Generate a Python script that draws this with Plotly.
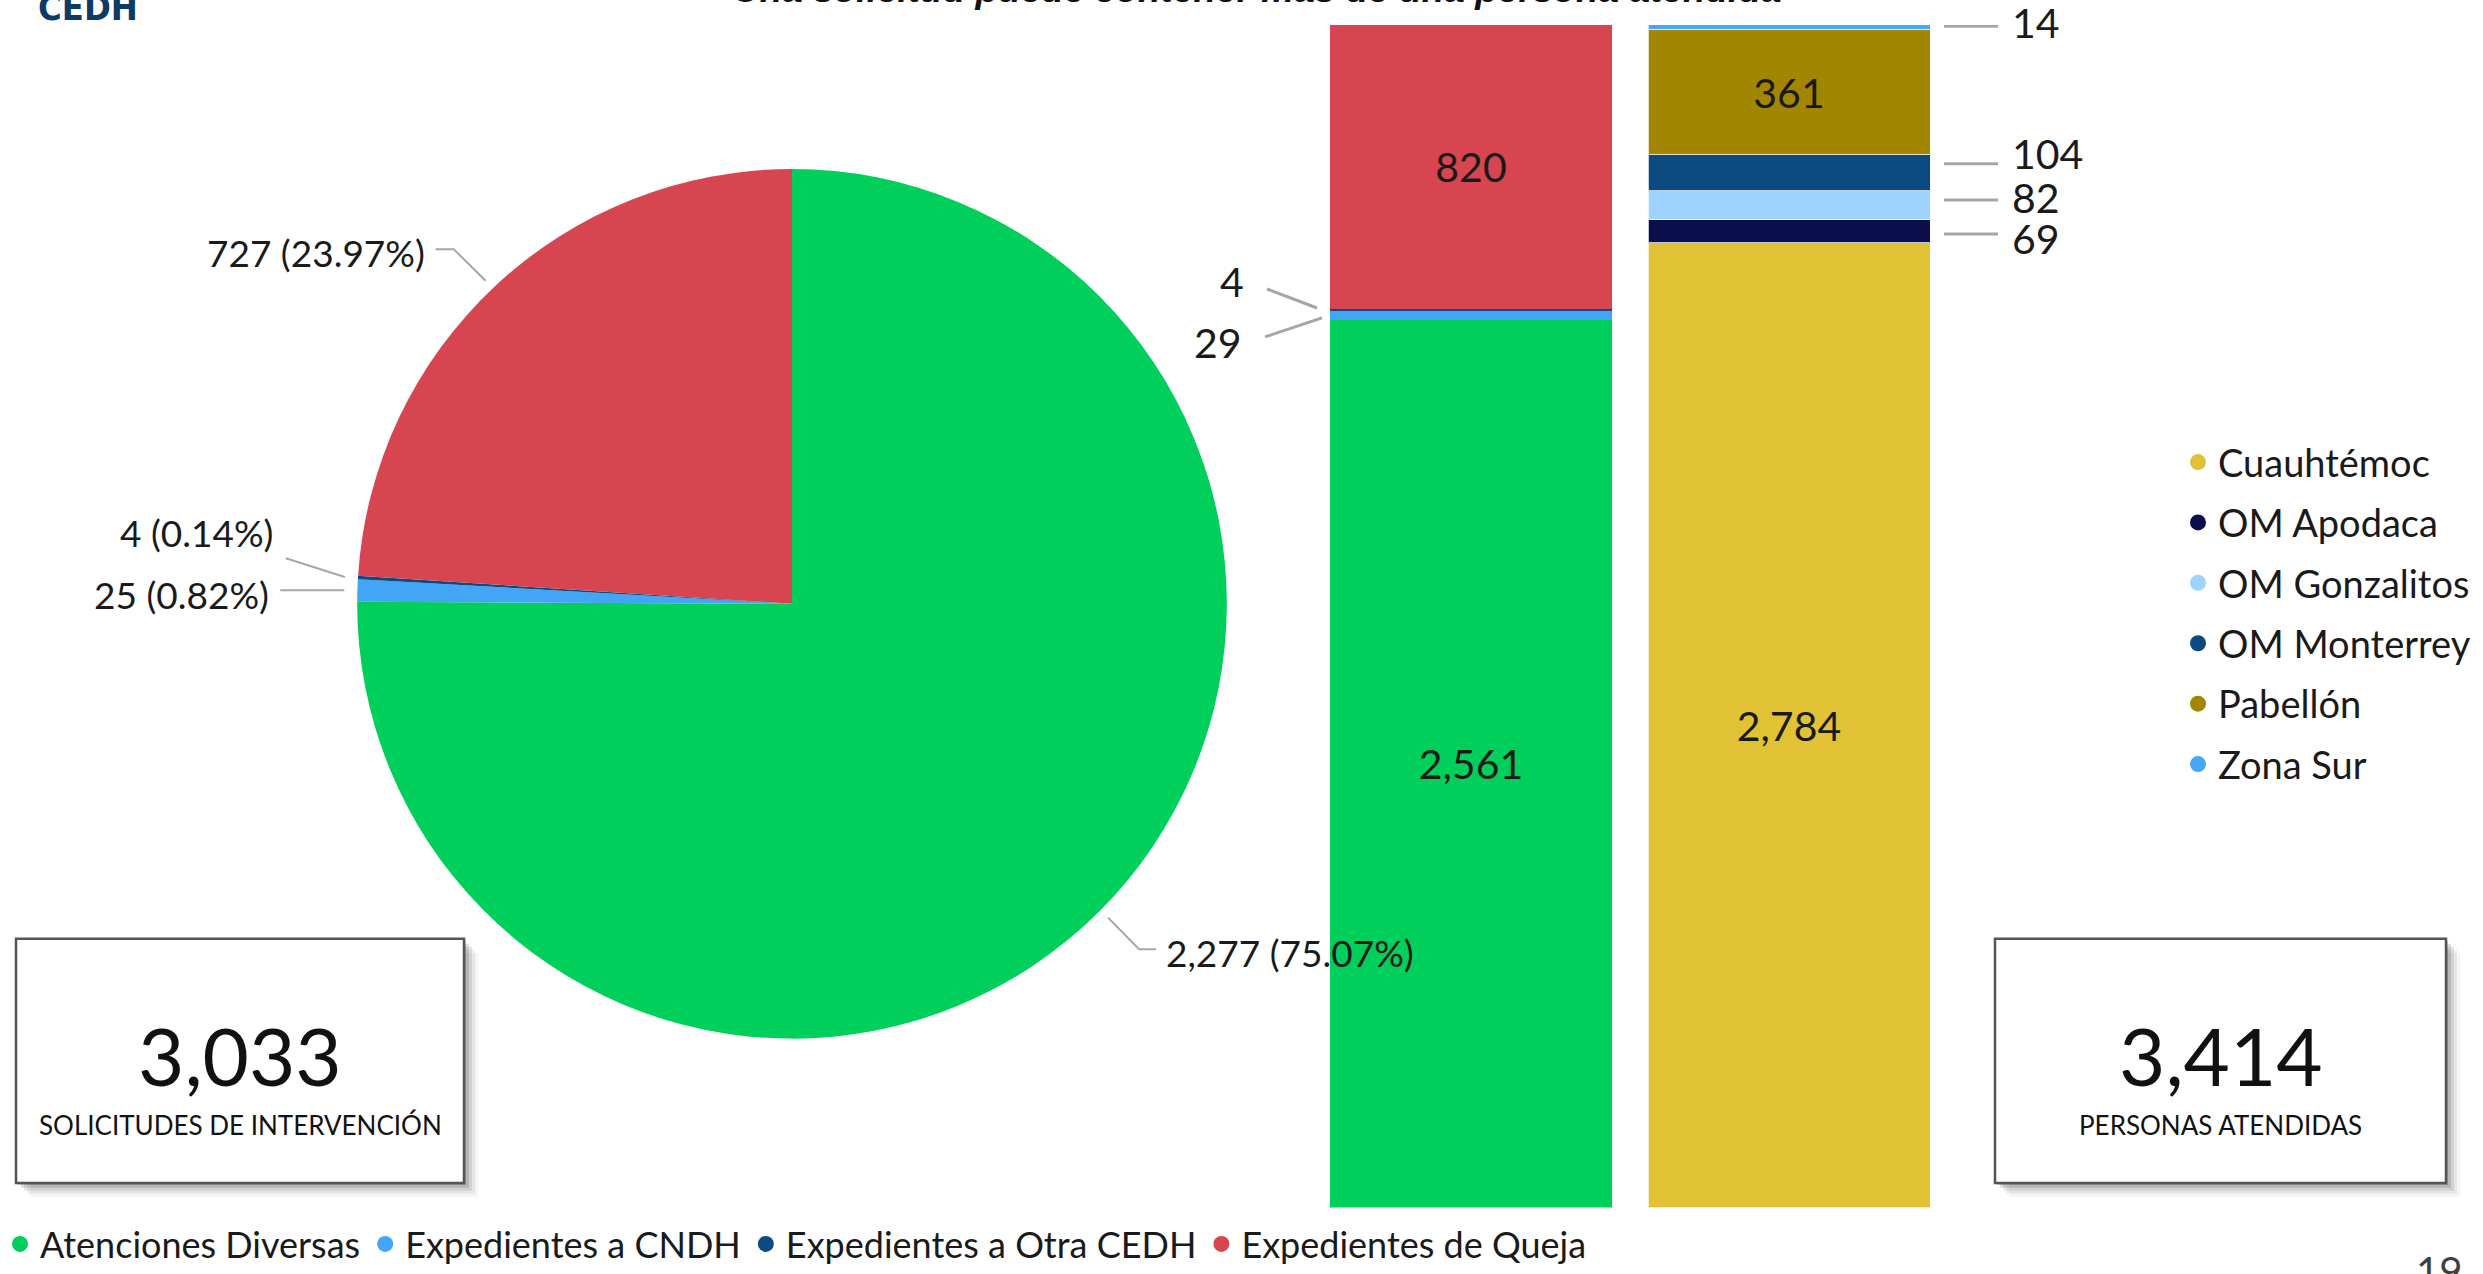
import math
import plotly.graph_objects as go

W, H = 2483, 1274

# ---------------- data ----------------
pie_labels = ["Atenciones Diversas", "Expedientes a CNDH", "Expedientes a Otra CEDH", "Expedientes de Queja"]
pie_values = [2277, 25, 4, 727]
pie_pct_labels = ["75.07%", "0.82%", "0.14%", "23.97%"]
sol_colors = ["#00CF5C", "#42A5F5", "#0C4A84", "#D64550"]

bar_categories = ["Solicitudes", "Personas"]
sol_values = [2561, 29, 4, 820]

per_labels = ["Cuauhtémoc", "OM Apodaca", "OM Gonzalitos", "OM Monterrey", "Pabellón", "Zona Sur"]
per_values = [2784, 69, 82, 104, 361, 14]
per_colors = ["#E0C234", "#0A0F4C", "#9DD3FD", "#0B4A80", "#A38600", "#45A6FA"]

box_captions = ["SOLICITUDES DE INTERVENCIÓN", "PERSONAS ATENDIDAS"]
title_text = "Una solicitud puede contener más de una persona atendida"
logo_text = "CEDH"
page_number = "19"

# ---------------- layout constants (pixels) ----------------
FONT = "Lato, Open Sans, sans-serif"
TXT = "#1a1a1a"
LEADER = "#A6A6A6"


def px(x):
    return x / W


def py(y):
    return 1 - y / H


PIE_CX, PIE_CY, PIE_R = 792, 611, 440
BAR_W, BAR_STEP, BAR0_CX = 282, 318, 1471
XDOM = (1100, 2200)
YDOM = (25, 1222)  # top, bottom in screen px

bargap = 1 - BAR_W / BAR_STEP
hw = (1 - bargap) / 2
xr0 = -(BAR0_CX - XDOM[0]) / BAR_STEP
xr1 = xr0 + (XDOM[1] - XDOM[0]) / BAR_STEP

fig = go.Figure()

# ---------------- pie ----------------
fig.add_trace(go.Pie(
    labels=pie_labels, values=pie_values, sort=False, direction="clockwise", rotation=0,
    marker=dict(colors=sol_colors, line=dict(width=0)),
    textinfo="none", hoverinfo="skip", showlegend=False,
    domain=dict(x=[px(PIE_CX - PIE_R), px(PIE_CX + PIE_R)],
                y=[py(PIE_CY + PIE_R), py(PIE_CY - PIE_R)]),
))

# ---------------- stacked bars ----------------
inside_font = dict(family=FONT, size=41, color=TXT)
for lab, v, col in zip(pie_labels, sol_values, sol_colors):
    big = v >= 300
    fig.add_trace(go.Bar(
        x=[bar_categories[0]], y=[v], name=lab, marker=dict(color=col, line=dict(width=0)),
        text=[f"{v:,}"] if big else None, textposition="inside" if big else "none",
        insidetextanchor="middle", textfont=inside_font, constraintext="none",
        showlegend=False, hoverinfo="skip"))
for lab, v, col in zip(per_labels, per_values, per_colors):
    big = v >= 300
    fig.add_trace(go.Bar(
        x=[bar_categories[1]], y=[v], name=lab,
        marker=dict(color=col, line=dict(width=1, color="rgba(255,255,255,0.75)")),
        text=[f"{v:,}"] if big else None, textposition="inside" if big else "none",
        insidetextanchor="middle", textfont=inside_font, constraintext="none",
        showlegend=False, hoverinfo="skip"))

# legend-only circle markers
for lab, col in zip(pie_labels, sol_colors):
    fig.add_trace(go.Scatter(x=[None], y=[None], mode="markers", name=lab,
                             marker=dict(color=col, size=18, symbol="circle"),
                             legend="legend", hoverinfo="skip"))
for lab, col in zip(per_labels, per_colors):
    fig.add_trace(go.Scatter(x=[None], y=[None], mode="markers", name=lab, legendgroup=lab,
                             marker=dict(color=col, size=18, symbol="circle"),
                             legend="legend2", hoverinfo="skip"))

shapes = []
annotations = []

# ---------------- pie labels ----------------
pie_label_layout = {
    "Atenciones Diversas": dict(path=[(31, 32), (48, 32)], text=(56, 35), anchor="left"),
    "Expedientes a CNDH": dict(path=[(-64, 0)], text=(-73, 4), anchor="right"),
    "Expedientes a Otra CEDH": dict(path=[(-59, -19)], text=(-70, -45), anchor="right"),
    "Expedientes de Queja": dict(path=[(-32, -32), (-50, -32)], text=(-59, -29), anchor="right"),
}
total_pie = sum(pie_values)
cum = 0
for lab, v, pct in zip(pie_labels, pie_values, pie_pct_labels):
    mid = (cum + v / 2) / total_pie * 2 * math.pi
    cum += v
    ax_ = PIE_CX + (PIE_R + 8) * math.sin(mid)
    ay_ = PIE_CY - (PIE_R + 8) * math.cos(mid)
    lay = pie_label_layout[lab]
    pts = [(ax_, ay_)] + [(ax_ + dx, ay_ + dy) for dx, dy in lay["path"]]
    path = "M " + " L ".join(f"{px(x):.5f},{py(y):.5f}" for x, y in pts)
    shapes.append(dict(type="path", xref="paper", yref="paper", path=path,
                       line=dict(color=LEADER, width=2)))
    tx, ty = ax_ + lay["text"][0], ay_ + lay["text"][1]
    annotations.append(dict(xref="paper", yref="paper", x=px(tx), y=py(ty), showarrow=False,
                            text=f"{v:,} ({pct})", xanchor=lay["anchor"], yanchor="middle",
                            font=dict(family=FONT, size=37, color=TXT)))

# ---------------- small bar-segment labels ----------------
# right bar: (line dy, text dy) in px, up positive
right_nudge = {"OM Apodaca": (-3, -7), "OM Gonzalitos": (5, 7), "OM Monterrey": (9, 19), "Zona Sur": (1, 5)}
base = 0
for lab, v in zip(per_labels, per_values):
    c = base + v / 2
    base += v
    if lab in right_nudge:
        ld, td = right_nudge[lab]
        shapes.append(dict(type="line", xref="x", yref="y", xsizemode="pixel", ysizemode="pixel",
                           xanchor=1 + hw, yanchor=c, x0=14, x1=68, y0=ld, y1=ld,
                           line=dict(color=LEADER, width=3)))
        annotations.append(dict(xref="x", yref="y", x=1 + hw, y=c, xshift=80, yshift=td,
                                showarrow=False, text=f"{v:,}", xanchor="left", yanchor="middle",
                                font=dict(family=FONT, size=41, color=TXT)))

# left bar: (line x0, x1, y0, y1, text dx, text dy)
left_nudge = {"Expedientes a Otra CEDH": (-63, -13, 20.5, 1.5, -98, 28.5),
              "Expedientes a CNDH": (-65, -8, -21.7, -2.7, -112, -27.7)}
base = 0
for lab, v in zip(pie_labels, sol_values):
    c = base + v / 2
    base += v
    if lab in left_nudge:
        x0, x1, y0, y1, tdx, tdy = left_nudge[lab]
        shapes.append(dict(type="line", xref="x", yref="y", xsizemode="pixel", ysizemode="pixel",
                           xanchor=-hw, yanchor=c, x0=x0, x1=x1, y0=y0, y1=y1,
                           line=dict(color=LEADER, width=3)))
        annotations.append(dict(xref="x", yref="y", x=-hw, y=c, xshift=tdx, yshift=tdy,
                                showarrow=False, text=f"{v:,}", xanchor="center", yanchor="middle",
                                font=dict(family=FONT, size=41, color=TXT)))

# ---------------- KPI boxes ----------------
BOX_TOP, BOX_BOT = 950, 1197
boxes = [((16, BOX_TOP, 464, BOX_BOT), f"{sum(pie_values):,}", box_captions[0]),
         ((1995, BOX_TOP, 2446, BOX_BOT), f"{sum(per_values):,}", box_captions[1])]
for (x0, y0, x1, y1), big, cap in boxes:
    for off, op in [(14, 0.04), (11, 0.06), (8, 0.09), (5, 0.13), (2, 0.18)]:
        shapes.append(dict(type="rect", xref="paper", yref="paper", layer="below",
                           x0=px(x0 + off), x1=px(x1 + off), y0=py(y1 + off), y1=py(y0 + off),
                           fillcolor=f"rgba(0,0,0,{op})", line=dict(width=0)))
    shapes.append(dict(type="rect", xref="paper", yref="paper", layer="below",
                       x0=px(x0), x1=px(x1), y0=py(y1), y1=py(y0),
                       fillcolor="white", line=dict(color="#555555", width=2.5)))
    cx = (x0 + x1) / 2
    annotations.append(dict(xref="paper", yref="paper", x=px(cx), y=py(y0 + 118), showarrow=False,
                            text=big, xanchor="center", yanchor="middle",
                            font=dict(family=FONT, size=80, color="#111111")))
    annotations.append(dict(xref="paper", yref="paper", x=px(cx), y=py(y0 + 188), showarrow=False,
                            text=cap, xanchor="center", yanchor="middle",
                            font=dict(family=FONT, size=26, color="#111111")))

# ---------------- title / logo / page number (cut at the edges) ----------------
annotations.append(dict(xref="paper", yref="paper", x=px(1257), y=py(12), showarrow=False,
                        text=title_text, xanchor="center", yanchor="bottom",
                        font=dict(family="Liberation Sans, Arial, sans-serif", size=37,
                                  color="#111111", weight="bold", style="italic")))
annotations.append(dict(xref="paper", yref="paper", x=px(88), y=py(30), showarrow=False,
                        text=logo_text, xanchor="center", yanchor="bottom",
                        font=dict(family="Liberation Sans Narrow, DejaVu Sans Condensed, sans-serif",
                                  size=36, color="#0E3B66", weight="bold")))
annotations.append(dict(xref="paper", yref="paper", x=px(2414), y=py(1260), showarrow=False,
                        text=page_number, xanchor="left", yanchor="top",
                        font=dict(family=FONT, size=40, color="#404040")))

fig.update_layout(
    width=W, height=H, margin=dict(l=0, r=0, t=0, b=0),
    paper_bgcolor="white", plot_bgcolor="rgba(0,0,0,0)",
    barmode="stack", bargap=bargap,
    xaxis=dict(type="category", categoryorder="array", categoryarray=bar_categories,
               range=[xr0, xr1], domain=[px(XDOM[0]), px(XDOM[1])], visible=False, fixedrange=True),
    yaxis=dict(range=[0, sum(sol_values)], domain=[py(YDOM[1]), py(YDOM[0])], visible=False,
               fixedrange=True),
    legend=dict(orientation="h", x=px(0), y=py(1259), xanchor="left", yanchor="middle",
                font=dict(family=FONT, size=36, color=TXT), bgcolor="rgba(0,0,0,0)",
                itemsizing="trace", traceorder="normal", itemclick=False),
    legend2=dict(orientation="v", x=px(2178), y=py(436), xanchor="left", yanchor="top",
                 font=dict(family=FONT, size=38, color=TXT), bgcolor="rgba(0,0,0,0)",
                 itemsizing="trace", traceorder="grouped", tracegroupgap=8, itemclick=False),
    shapes=shapes, annotations=annotations, showlegend=True,
)

fig.write_html("out.html", config={"displayModeBar": False},
               post_script="document.body.style.margin='0px';")
